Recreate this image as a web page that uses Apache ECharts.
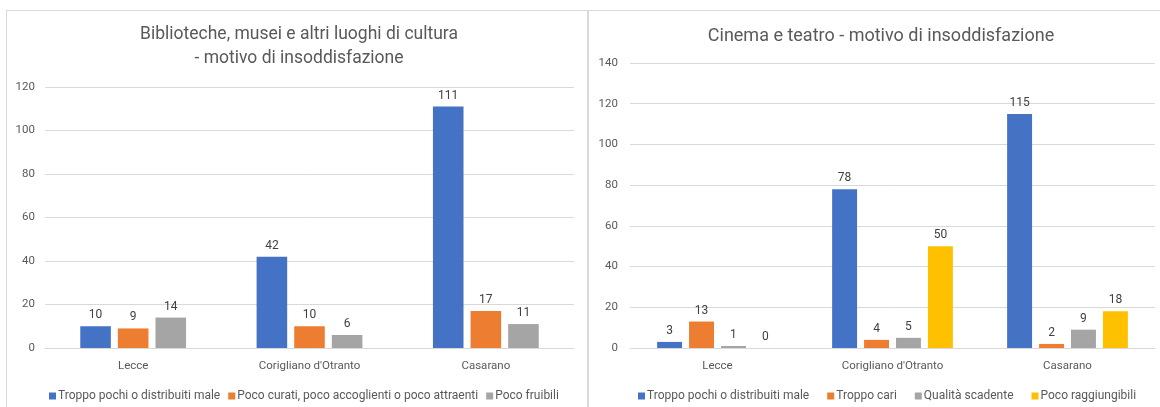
<!DOCTYPE html>
<html>
<head>
<meta charset="utf-8">
<script src="https://cdn.jsdelivr.net/npm/echarts@6/dist/echarts.min.js"></script>
<style>
  html, body { margin: 0; padding: 0; background: #fff; }
  #wrap { position: relative; width: 1160px; height: 407px; overflow: hidden; }
  .box { position: absolute; border: 1px solid #d9d9d9; background: #fff; }
  #chart { position: absolute; left: 0; top: 0; width: 1160px; height: 407px; }
</style>
</head>
<body>
<div id="wrap">
  <div class="box" style="left:6px; top:10px; width:580px; height:420px;"></div>
  <div class="box" style="left:588px; top:10px; width:600px; height:420px;"></div>
  <div id="chart"></div>
</div>
<script>
// ---- data ----
const categories = ["Lecce", "Corigliano d'Otranto", "Casarano"];

const leftTitle = "Biblioteche, musei e altri luoghi di cultura\n- motivo di insoddisfazione";
const leftSeriesNames = ["Troppo pochi o distribuiti male", "Poco curati, poco accoglienti o poco attraenti", "Poco fruibili"];
const leftTroppoPochi = [10, 42, 111];
const leftPocoCurati = [9, 10, 17];
const leftPocoFruibili = [14, 6, 11];

const rightTitle = "Cinema e teatro - motivo di insoddisfazione";
const rightSeriesNames = ["Troppo pochi o distribuiti male", "Troppo cari", "Qualità scadente", "Poco raggiungibili"];
const rightTroppoPochi = [3, 78, 115];
const rightTroppoCari = [13, 4, 2];
const rightQualita = [1, 5, 9];
const rightRaggiungibili = [0, 50, 18];

const colors = ["#4472C4", "#ED7D31", "#A5A5A5", "#FFC000"];
const FONT = "Roboto";

function barSeries(name, data, color, axisIdx, gap, catGap) {
  return {
    type: 'bar', name: name, data: data,
    xAxisIndex: axisIdx, yAxisIndex: axisIdx,
    barGap: gap, barCategoryGap: catGap,
    itemStyle: { color: color },
    label: { show: true, position: 'top', distance: 5, color: '#404040', fontSize: 12, fontFamily: FONT },
    emphasis: { disabled: true }
  };
}

const chart = echarts.init(document.getElementById('chart'), null, { renderer: 'canvas' });
const axisLabelStyle = { color: '#595959', fontSize: 11.5, fontFamily: FONT };

const option = {
  animation: false,
  color: colors,
  title: [
    { text: leftTitle, left: 294, top: 18, textAlign: 'center',
      textStyle: { color: '#595959', fontSize: 17.5, fontWeight: 'normal', fontFamily: FONT, lineHeight: 24 } },
    { text: rightTitle, left: 876, top: 22, textAlign: 'center',
      textStyle: { color: '#595959', fontSize: 18, fontWeight: 'normal', fontFamily: FONT } }
  ],
  legend: [
    { data: leftSeriesNames, left: 44, top: 385, itemWidth: 7, itemHeight: 7, itemGap: 8,
      icon: 'rect', textStyle: { color: '#595959', fontSize: 12, fontFamily: FONT, padding: [0, 0, 0, -3] } },
    { data: rightSeriesNames, left: 633, top: 385, itemWidth: 7, itemHeight: 7, itemGap: 18,
      icon: 'rect', textStyle: { color: '#595959', fontSize: 12, fontFamily: FONT, padding: [0, 0, 0, -3] } }
  ],
  grid: [
    { left: 45, right: 586, top: 87, bottom: 59 },
    { left: 630, right: 5, top: 63, bottom: 59 }
  ],
  xAxis: [0, 1].map(i => ({
    type: 'category', gridIndex: i, data: categories,
    axisLine: { lineStyle: { color: '#d9d9d9' } },
    axisTick: { show: false },
    axisLabel: Object.assign({ margin: 12 }, axisLabelStyle)
  })),
  yAxis: [
    { type: 'value', gridIndex: 0, min: 0, max: 120, interval: 20,
      axisLine: { show: false }, axisTick: { show: false },
      splitLine: { lineStyle: { color: '#d9d9d9' } },
      axisLabel: Object.assign({ margin: 10 }, axisLabelStyle) },
    { type: 'value', gridIndex: 1, min: 0, max: 140, interval: 20,
      axisLine: { show: false }, axisTick: { show: false },
      splitLine: { lineStyle: { color: '#d9d9d9' } },
      axisLabel: Object.assign({ margin: 12 }, axisLabelStyle) }
  ],
  series: [
    barSeries(leftSeriesNames[0], leftTroppoPochi, colors[0], 0, '23%', '40%'),
    barSeries(leftSeriesNames[1], leftPocoCurati, colors[1], 0, '23%', '40%'),
    barSeries(leftSeriesNames[2], leftPocoFruibili, colors[2], 0, '23%', '40%'),
    barSeries(rightSeriesNames[0], rightTroppoPochi, colors[0], 1, '28%', '31%'),
    barSeries(rightSeriesNames[1], rightTroppoCari, colors[1], 1, '28%', '31%'),
    barSeries(rightSeriesNames[2], rightQualita, colors[2], 1, '28%', '31%'),
    barSeries(rightSeriesNames[3], rightRaggiungibili, colors[3], 1, '28%', '31%')
  ]
};
chart.setOption(option);
</script>
</body>
</html>
